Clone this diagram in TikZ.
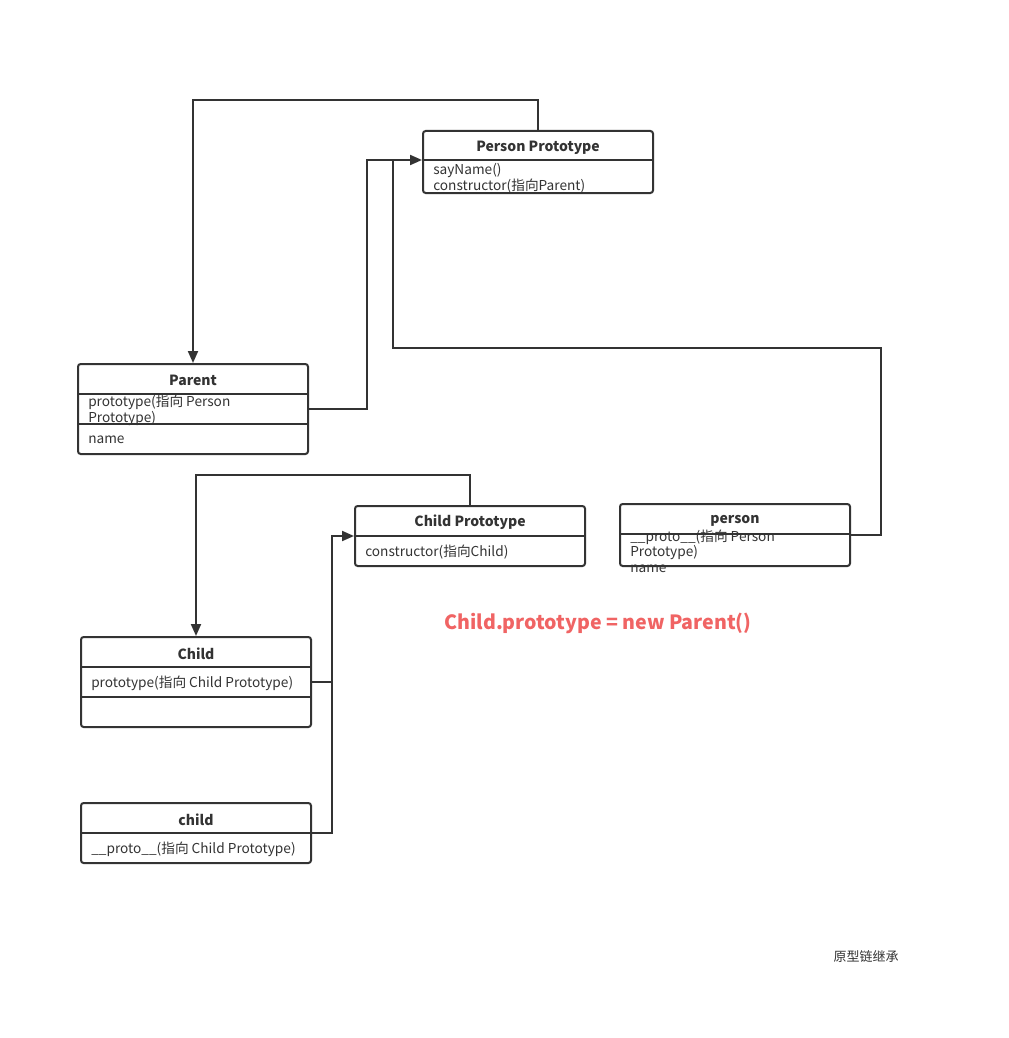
\documentclass[tikz,border=0pt]{standalone}
\usepackage{fontspec}
\setmainfont{Noto Sans CJK SC}
\usepackage{xcolor}
\definecolor{linea}{RGB}{51,51,51}
\definecolor{rojo}{RGB}{240,100,100}
\usetikzlibrary{arrows.meta,positioning}

\tikzset{
  clase/.style={draw=linea,line width=1.5pt,rounded corners=2pt,minimum width=172.5pt,inner sep=0pt},
  titulo/.style={inner sep=0pt,text=linea,font=\bfseries\fontsize{10.5}{12}\selectfont},
  campo/.style={anchor=west,inner sep=0pt,text=linea,align=left,font=\fontsize{10.25}{12}\selectfont},
  enlace/.style={draw=linea,line width=1.5pt},
  flecha/.style={enlace,-{Triangle[length=9pt,width=7.5pt]}},
}

\begin{document}
\begin{tikzpicture}[x=0.75pt,y=-0.75pt]
    \useasboundingbox (0,0) rectangle (1008,1038);
    % clases
    \node[clase,minimum height=46.5pt] (pp) at (538,162) {};
    \node[titulo] (ppT) at (538,147.5) {Person Prototype};
    \draw[enlace] (pp.west |- 0,160) -- (pp.east |- 0,160);
    \node[campo] (ppA) at (433,178) {sayName()\\constructor(指向Parent)};

    \node[clase,minimum height=67.5pt] (parent) at (193,409) {};
    \node[titulo] (parentT) at (193,380.5) {Parent};
    \draw[enlace] (parent.west |- 0,394) -- (parent.east |- 0,394);
    \draw[enlace] (parent.west |- 0,424) -- (parent.east |- 0,424);
    \node[campo] (parentA) at (88,410) {prototype(指向 Person\\Prototype)};
    \node[campo] (parentB) at (88,440) {name};

    \node[clase,minimum height=45pt] (cp) at (470,536) {};
    \node[titulo] (cpT) at (470,522.5) {Child Prototype};
    \draw[enlace] (cp.west |- 0,536) -- (cp.east |- 0,536);
    \node[campo] (cpA) at (365,552) {constructor(指向Child)};

    \node[clase,minimum height=46.5pt] (person) at (735,535) {};
    \node[titulo] (personT) at (735,520.5) {person};
    \draw[enlace] (person.west |- 0,534) -- (person.east |- 0,534);
    \node[campo,align=left,font=\fontsize{10.25}{11.6}\selectfont] (personA) at (630,551) {\_\_proto\_\_(指向 Person\\Prototype)\\name};

    \node[clase,minimum height=67.5pt] (childC) at (196,682) {};
    \node[titulo] (childCT) at (196,653.5) {Child};
    \draw[enlace] (childC.west |- 0,667) -- (childC.east |- 0,667);
    \draw[enlace] (childC.west |- 0,697) -- (childC.east |- 0,697);
    \node[campo] (childCA) at (91,683) {prototype(指向 Child Prototype)};

    \node[clase,minimum height=45pt] (child) at (196,833) {};
    \node[titulo] (childT) at (196,819.5) {child};
    \draw[enlace] (child.west |- 0,833) -- (child.east |- 0,833);
    \node[campo] (childA) at (91,849) {\_\_proto\_\_(指向 Child Prototype)};

    % enlaces
    \coordinate (unionP) at (393,160);
    \coordinate (unionC) at (332,682);
    \draw[flecha] (pp.north) -- ++(0,-30) -| (parent.north);
    \draw[flecha] (parent.east) -- ++(58,0) |- (pp.west |- 0,160);
    \draw[enlace] (person.east) -- ++(30,0) |- (393,348) -- (unionP);
    \draw[flecha] (cp.north) -- ++(0,-30) -| (childC.north);
    \draw[flecha] (childC.east) -- (unionC) |- (cp.west);
    \draw[enlace] (child.east) -| (unionC);

    % textos
    \node[text=rojo,font=\bfseries\fontsize{14.7}{18}\selectfont] (nota) at (598,623) {Child.prototype = new Parent()};
    \node[text=linea,font=\fontsize{9.75}{12}\selectfont] (pie) at (866,957) {原型链继承};
  \end{tikzpicture}
\end{document}
